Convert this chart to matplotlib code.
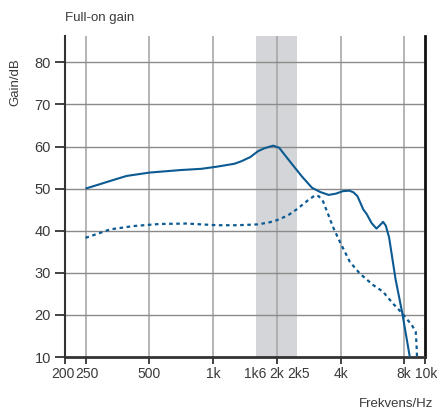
import matplotlib
matplotlib.use("Agg")
import matplotlib.pyplot as plt
from matplotlib import font_manager
from matplotlib.transforms import ScaledTranslation

# ---- data ----
solid_freq = [250, 290, 326, 390, 500, 700, 880, 1040, 1260, 1360, 1500, 1630, 1750, 1920,
              2050, 2266, 2623, 2928, 3200, 3511, 3800, 4100, 4400, 4600, 4800, 5120, 5300,
              5600, 5900, 6100, 6340, 6530, 6770, 7260, 7800, 8480]
solid_gain = [50.0, 51.0, 51.8, 53.0, 53.8, 54.4, 54.7, 55.2, 55.9, 56.5, 57.5, 58.9, 59.6, 60.2,
              59.7, 56.9, 52.9, 50.2, 49.2, 48.5, 48.8, 49.4, 49.5, 49.1, 48.2, 45.0, 44.0,
              41.8, 40.5, 41.2, 42.1, 41.2, 38.4, 28.5, 20.6, 10.0]

dash_freq = [250, 290, 326, 420, 560, 750, 1040, 1300, 1630, 1850, 2000, 2250, 2500, 2800,
             3027, 3150, 3300, 3560, 3670, 3970, 4420, 4930, 5690, 6340, 7060, 7800, 8660,
             9040, 9120, 9170]
dash_gain = [38.3, 39.4, 40.3, 41.1, 41.6, 41.7, 41.3, 41.3, 41.5, 42.0, 42.5, 43.6, 45.2, 47.2,
             48.4, 48.2, 47.0, 42.8, 41.0, 37.3, 32.6, 29.8, 27.1, 25.5, 22.7, 20.4, 17.6,
             16.0, 13.0, 10.0]

xtick_vals = [200, 250, 500, 1000, 1600, 2000, 2500, 4000, 8000, 10000]
xtick_labels = ["200", "250", "500", "1k", "1k6", "2k", "2k5", "4k", "8k", "10k"]
ytick_vals = [10, 20, 30, 40, 50, 60, 70, 80]
vgrid_vals = [250, 500, 1000, 2000, 4000, 8000]
band = (1600, 2500)

# ---- fonts ----
names = {f.name for f in font_manager.fontManager.ttflist}
narrow = "Liberation Sans Narrow" if "Liberation Sans Narrow" in names else "Liberation Sans"
regular = "Liberation Sans"

blue = "#0b5b92"
txt = "#3a3a3a"

fig = plt.figure(figsize=(4.37, 4.11), dpi=100)
ax = fig.add_axes([65/437, 1-357/411, 360/437, 321/411])
ax.set_xscale("log")
ax.set_xlim(200, 10000)
ax.set_ylim(10, 10 + 321/4.21)

ax.axvspan(band[0], band[1], color="#d4d5d8", lw=0, zorder=0)
for v in vgrid_vals:
    ax.axvline(v, color="#a8a8a8", lw=1.2, zorder=1)
for v in ytick_vals[1:]:
    ax.axhline(v, color="#8a8a8a", lw=1.0, zorder=1)

ax.plot(solid_freq, solid_gain, color=blue, lw=1.5, zorder=3, solid_capstyle="butt")
ax.plot(dash_freq, dash_gain, color=blue, lw=1.6, ls=(0, (1.6, 1.6)), zorder=3)

ax.set_xticks(xtick_vals)
ax.set_xticklabels(xtick_labels, fontfamily=narrow, fontsize=10, color=txt)
ax.xaxis.set_minor_locator(matplotlib.ticker.NullLocator())
ax.set_yticks(ytick_vals)
ax.set_yticklabels([str(v) for v in ytick_vals], fontfamily=narrow, fontsize=10.5, color=txt)

ax.tick_params(axis="x", length=5, width=1.2, color="#222", pad=2)
ax.tick_params(axis="y", length=7, width=1.2, color="#222", pad=3)
# hide ticks at 1k6 and 2k5
for t, v in zip(ax.xaxis.get_major_ticks(), xtick_vals):
    if v in (1600, 2500):
        t.tick1line.set_visible(False)

# small horizontal nudges of crowded labels (in pixels)
nudge = {200: -2, 250: 1.5, 1600: -1.5, 2500: 1.5, 8000: -1, 10000: 1}
for lab, v in zip(ax.get_xticklabels(), xtick_vals):
    if v in nudge:
        lab.set_transform(lab.get_transform() + ScaledTranslation(nudge[v]/100, 0, fig.dpi_scale_trans))

ax.spines["top"].set_visible(False)
ax.spines["left"].set_color("#333")
ax.spines["left"].set_linewidth(1.5)
ax.spines["right"].set_color("#111")
ax.spines["right"].set_linewidth(2.0)
ax.spines["bottom"].set_color("#333")
ax.spines["bottom"].set_linewidth(2.0)

fig.text(65/437, 1-18/411, "Full-on gain", fontfamily=regular, fontsize=9.5, color=txt,
         ha="left", va="center")
fig.text(15/437, 1-82/411, "Gain/dB", fontfamily=regular, fontsize=9.5, color=txt,
         ha="center", va="center", rotation=90)
fig.text(433/437, 1-404/411, "Frekvens/Hz", fontfamily=regular, fontsize=9.5, color=txt,
         ha="right", va="center")

fig.savefig("out.png", dpi=100)
